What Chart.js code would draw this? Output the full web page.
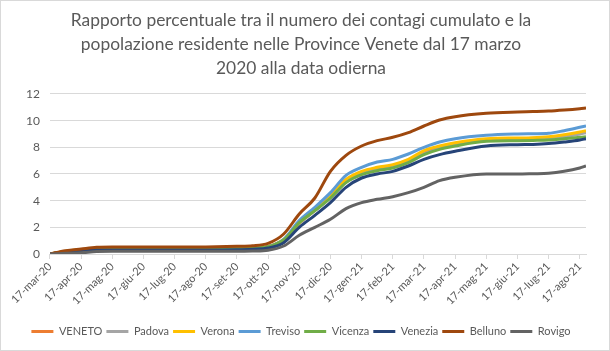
<!DOCTYPE html>
<html>
<head>
<meta charset="utf-8">
<script src="https://cdn.jsdelivr.net/npm/chart.js@4.4.0/dist/chart.umd.min.js"></script>
<style>
  html, body { margin: 0; padding: 0; background: #fff; }
  canvas { display: block; }
</style>
</head>
<body>
<canvas id="chart" width="610" height="351"></canvas>
<script>
// x position in months since 17-mar-20
const monthPos = [0, 0.5, 1, 1.5, 2, 3, 4, 5, 6, 6.5, 7, 7.5, 8, 8.5, 9, 9.5, 10, 10.5, 11, 11.5, 12, 12.5, 13, 14, 15, 15.5, 16, 16.5, 17, 17.2];

const monthLabels = ['17-mar-20', '17-apr-20', '17-mag-20', '17-giu-20', '17-lug-20', '17-ago-20',
    '17-set-20', '17-ott-20', '17-nov-20', '17-dic-20', '17-gen-21', '17-feb-21', '17-mar-21',
    '17-apr-21', '17-mag-21', '17-giu-21', '17-lug-21', '17-ago-21'];

const veneto  = [0, 0.18, 0.3, 0.36, 0.37, 0.37, 0.37, 0.37, 0.39, 0.43, 0.55, 1.05, 2.3, 3.3, 4.3, 5.5, 6.1, 6.4, 6.6, 7.0, 7.6, 8.0, 8.25, 8.55, 8.65, 8.68, 8.72, 8.85, 9.05, 9.15];
const padova  = [0, 0.17, 0.28, 0.35, 0.36, 0.36, 0.36, 0.36, 0.38, 0.42, 0.53, 1.0, 2.3, 3.25, 4.2, 5.4, 6.0, 6.3, 6.5, 6.9, 7.5, 7.9, 8.2, 8.5, 8.6, 8.62, 8.65, 8.8, 9.0, 9.1];
const verona  = [0, 0.2, 0.33, 0.38, 0.38, 0.38, 0.38, 0.38, 0.4, 0.44, 0.56, 1.1, 2.35, 3.3, 4.4, 5.6, 6.2, 6.5, 6.7, 7.1, 7.75, 8.1, 8.35, 8.65, 8.7, 8.72, 8.8, 8.95, 9.15, 9.25];
const treviso = [0, 0.15, 0.25, 0.35, 0.36, 0.36, 0.36, 0.36, 0.38, 0.42, 0.55, 1.1, 2.5, 3.5, 4.6, 5.9, 6.5, 6.9, 7.1, 7.5, 8.0, 8.4, 8.65, 8.9, 9.0, 9.02, 9.05, 9.25, 9.5, 9.6];
const vicenza = [0, 0.16, 0.27, 0.36, 0.37, 0.37, 0.37, 0.37, 0.39, 0.43, 0.54, 1.05, 2.35, 3.25, 4.2, 5.35, 5.95, 6.25, 6.45, 6.85, 7.45, 7.85, 8.1, 8.45, 8.5, 8.52, 8.55, 8.65, 8.75, 8.8];
const venezia = [0, 0.14, 0.22, 0.3, 0.3, 0.3, 0.3, 0.3, 0.32, 0.36, 0.45, 0.85, 2.0, 2.9, 3.85, 5.0, 5.7, 6.0, 6.2, 6.6, 7.1, 7.45, 7.7, 8.1, 8.2, 8.22, 8.28, 8.4, 8.55, 8.65];
const belluno = [0, 0.25, 0.38, 0.5, 0.52, 0.52, 0.52, 0.53, 0.58, 0.62, 0.8, 1.5, 3.0, 4.2, 6.2, 7.4, 8.1, 8.5, 8.75, 9.1, 9.6, 10.05, 10.3, 10.55, 10.65, 10.68, 10.72, 10.8, 10.9, 10.95];
const rovigo  = [0, 0.05, 0.1, 0.18, 0.2, 0.2, 0.2, 0.2, 0.2, 0.22, 0.28, 0.6, 1.4, 2.0, 2.6, 3.4, 3.85, 4.1, 4.3, 4.6, 5.0, 5.5, 5.75, 6.0, 6.0, 6.02, 6.05, 6.2, 6.45, 6.6];

const seriesNames = ['VENETO', 'Padova', 'Verona', 'Treviso', 'Vicenza', 'Venezia', 'Belluno', 'Rovigo'];
const seriesValues = [veneto, padova, verona, treviso, vicenza, venezia, belluno, rovigo];
const seriesColors = ['#ED7D31', '#A5A5A5', '#FFC000', '#5B9BD5', '#70AD47', '#264478', '#9E480E', '#636363'];

const textColor = '#595959';
const gridColor = '#d9d9d9';

// Excel draws later series on top; Chart.js draws dataset 0 on top, so reverse
const datasets = seriesNames.map((name, i) => ({
    label: name,
    data: seriesValues[i].map((v, j) => ({ x: monthPos[j], y: v })),
    borderColor: seriesColors[i],
    backgroundColor: seriesColors[i],
    borderWidth: 3,
    pointRadius: 0,
    cubicInterpolationMode: 'monotone',
    fill: false
})).reverse();

const frame = {
    id: 'frame',
    beforeDraw(chart) {
        const ctx = chart.ctx;
        ctx.save();
        ctx.fillStyle = '#fff';
        ctx.fillRect(0, 0, chart.width, chart.height);
        ctx.strokeStyle = gridColor;
        ctx.lineWidth = 1;
        ctx.strokeRect(0.5, 0.5, chart.width - 1, chart.height - 1);
        ctx.restore();
    }
};

new Chart(document.getElementById('chart'), {
    type: 'line',
    data: { datasets },
    plugins: [frame],
    options: {
        responsive: false,
        animation: false,
        devicePixelRatio: 1,
        layout: { padding: { left: 16, right: 24, top: 9, bottom: 4 } },
        plugins: {
            title: {
                display: true,
                text: ['Rapporto percentuale tra il numero dei contagi cumulato e la',
                       'popolazione residente nelle Province Venete dal 17 marzo',
                       '2020 alla data odierna'],
                color: textColor,
                font: { family: 'Lato', size: 17.4, weight: 'normal', lineHeight: 1.36 },
                padding: { top: 0, bottom: 14 }
            },
            legend: {
                position: 'bottom',
                reverse: true,
                labels: {
                    usePointStyle: true,
                    pointStyle: 'line',
                    pointStyleWidth: 22,
                    boxHeight: 3,
                    color: textColor,
                    font: { family: 'Lato', size: 11 },
                    padding: 4
                }
            },
            tooltip: { enabled: false }
        },
        scales: {
            x: {
                type: 'linear',
                min: 0,
                max: 17.2,
                afterBuildTicks: scale => { scale.ticks = monthLabels.map((l, i) => ({ value: i })); },
                afterFit: scale => { scale.height = 68; },
                ticks: {
                    autoSkip: false,
                    minRotation: 45,
                    maxRotation: 45,
                    color: textColor,
                    font: { family: 'Lato', size: 11 },
                    padding: 1,
                    callback: v => monthLabels[v]
                },
                grid: { drawOnChartArea: false, tickLength: 5, color: gridColor },
                border: { color: gridColor }
            },
            y: {
                min: 0,
                max: 12,
                ticks: {
                    stepSize: 2,
                    color: textColor,
                    font: { family: 'Lato', size: 12 },
                    padding: 10
                },
                grid: { color: gridColor, drawTicks: false },
                border: { display: false }
            }
        }
    }
});
</script>
</body>
</html>
